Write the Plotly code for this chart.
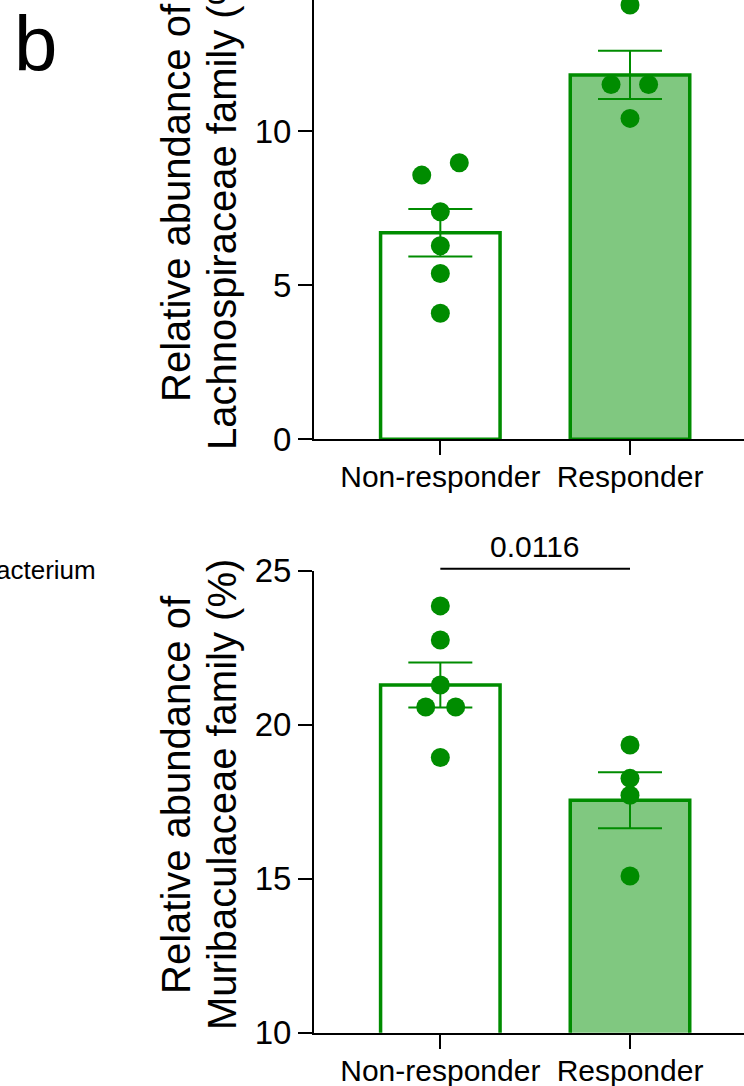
import plotly.graph_objects as go

# ---------------- data ----------------
CATEGORIES = ["Non-responder", "Responder"]

LACHNO_MEAN = [6.70, 11.82]
LACHNO_SEM = [0.77, 0.78]
LACHNO_NR = [8.57, 8.97, 7.38, 6.28, 5.38, 4.09]
LACHNO_NR_JIT = [-0.098, 0.10, 0.0, 0.0, 0.0, 0.0]
LACHNO_R = [14.09, 11.51, 11.51, 10.41]
LACHNO_R_JIT = [0.0, -0.10, 0.098, 0.0]

MURI_MEAN = [21.29, 17.55]
MURI_SEM = [0.73, 0.91]
MURI_NR = [23.86, 22.75, 21.29, 20.58, 20.58, 18.94]
MURI_NR_JIT = [0.0, 0.0, 0.0, -0.077, 0.081, 0.0]
MURI_R = [19.34, 18.26, 17.71, 15.09]
MURI_R_JIT = [0.0, 0.0, 0.0, 0.0]

P_VALUE = "0.0116"
TOP_TITLE = ["Relative abundance of", "Lachnospiraceae family (%)"]
BOT_TITLE = ["Relative abundance of", "Muribaculaceae family (%)"]
Y_TICKS_TOP = [0, 5, 10]
Y_TICKS_BOT = [10, 15, 20, 25]

# ---------------- style ----------------
W, H = 744, 1086
GREEN = "#008C00"
LIGHT = "#80C880"
FONT = "Arial, Liberation Sans, sans-serif"

def px_x(p):
    return p / W

def px_y(p):
    return 1 - p / H

X_DOM = [px_x(314), 1.0]
X_RANGE = [-0.666, 1.601]
TOP_DOM = [px_y(439.3), 1.0]
TOP_RANGE = [0, 14.25]
BOT_DOM = [px_y(1032.7), px_y(570.8)]
BOT_RANGE = [10, 25]
# helper axis for the significance bracket (same scale, taller domain)
OV_TOP = 26.5
OV_DOM = [BOT_DOM[0], BOT_DOM[0] + (OV_TOP - BOT_RANGE[0]) / (BOT_RANGE[1] - BOT_RANGE[0]) * (BOT_DOM[1] - BOT_DOM[0])]
BRACKET_Y = 25.07
P_LABEL_Y = 25.78

fig = go.Figure()

def add_panel(mean, sem, nr, nr_j, r, r_j, xa, ya):
    fig.add_trace(go.Bar(
        x=[0, 1], y=mean, width=0.63,
        marker=dict(color=["white", LIGHT], line=dict(color=GREEN, width=3.5)),
        error_y=dict(type="data", array=sem, visible=True, color=GREEN, thickness=2, width=32),
        xaxis=xa, yaxis=ya, showlegend=False, hoverinfo="skip",
    ))
    xs = [0 + j for j in nr_j] + [1 + j for j in r_j]
    ys = list(nr) + list(r)
    fig.add_trace(go.Scatter(
        x=xs, y=ys, mode="markers",
        marker=dict(color=GREEN, size=19, line=dict(width=0)),
        cliponaxis=False, xaxis=xa, yaxis=ya, showlegend=False, hoverinfo="skip",
    ))

add_panel(LACHNO_MEAN, LACHNO_SEM, LACHNO_NR, LACHNO_NR_JIT, LACHNO_R, LACHNO_R_JIT, "x", "y")
add_panel(MURI_MEAN, MURI_SEM, MURI_NR, MURI_NR_JIT, MURI_R, MURI_R_JIT, "x2", "y2")

# significance bracket
fig.add_trace(go.Scatter(
    x=[0, 1], y=[BRACKET_Y, BRACKET_Y], mode="lines",
    line=dict(color="black", width=2),
    xaxis="x3", yaxis="y3", showlegend=False, hoverinfo="skip",
))

axis_common = dict(
    showline=True, linecolor="black", linewidth=2,
    ticks="outside", ticklen=14, tickwidth=2, tickcolor="black",
    showgrid=False, zeroline=False, automargin=False,
)

xaxis_common = dict(axis_common, domain=X_DOM, range=X_RANGE,
                    tickvals=[0, 1], ticktext=CATEGORIES, ticklabelstandoff=-4,
                    tickfont=dict(family=FONT, size=30, color="black"))

fig.update_layout(
    template="none",
    width=W, height=H,
    margin=dict(l=0, r=0, t=0, b=0, pad=0),
    paper_bgcolor="white", plot_bgcolor="rgba(0,0,0,0)",
    font=dict(family=FONT, color="black"),
    xaxis=dict(xaxis_common, anchor="y"),
    yaxis=dict(axis_common, domain=TOP_DOM, range=TOP_RANGE, tickvals=Y_TICKS_TOP,
               tickfont=dict(family=FONT, size=33, color="black"), anchor="x"),
    xaxis2=dict(xaxis_common, anchor="y2"),
    yaxis2=dict(axis_common, domain=BOT_DOM, range=BOT_RANGE, tickvals=Y_TICKS_BOT,
                tickfont=dict(family=FONT, size=33, color="black"), anchor="x2"),
    xaxis3=dict(domain=X_DOM, range=X_RANGE, visible=False, anchor="y3", automargin=False),
    yaxis3=dict(domain=OV_DOM, range=[BOT_RANGE[0], OV_TOP], visible=False, anchor="x3", automargin=False),
)

ann = []
# y-axis titles (two lines each)
for lines, cy in ((TOP_TITLE, 203), (BOT_TITLE, 795)):
    for line, cx in zip(lines, (176, 222)):
        ann.append(dict(text=line, x=px_x(cx), y=px_y(cy), xref="paper", yref="paper",
                        xanchor="center", yanchor="middle", textangle=-90, showarrow=False,
                        font=dict(family=FONT, size=40, color="black")))
# p value
ann.append(dict(text=P_VALUE, x=0.5, y=P_LABEL_Y, xref="x3", yref="y3", xanchor="center",
                yanchor="middle", showarrow=False, font=dict(family=FONT, size=30, color="black")))
# panel letter
ann.append(dict(text="b", x=px_x(12), y=px_y(44), xref="paper", yref="paper", xanchor="left",
                yanchor="middle", showarrow=False, font=dict(family=FONT, size=78, color="black")))
# cut-off text from neighbouring panel
ann.append(dict(text="acterium", x=px_x(-6), y=px_y(570), xref="paper", yref="paper", xanchor="left",
                yanchor="middle", showarrow=False, font=dict(family=FONT, size=26, color="black")))
fig.update_layout(annotations=ann)

fig.write_html("out.html", config={"displayModeBar": False},
               post_script="document.body.style.margin='0';")
